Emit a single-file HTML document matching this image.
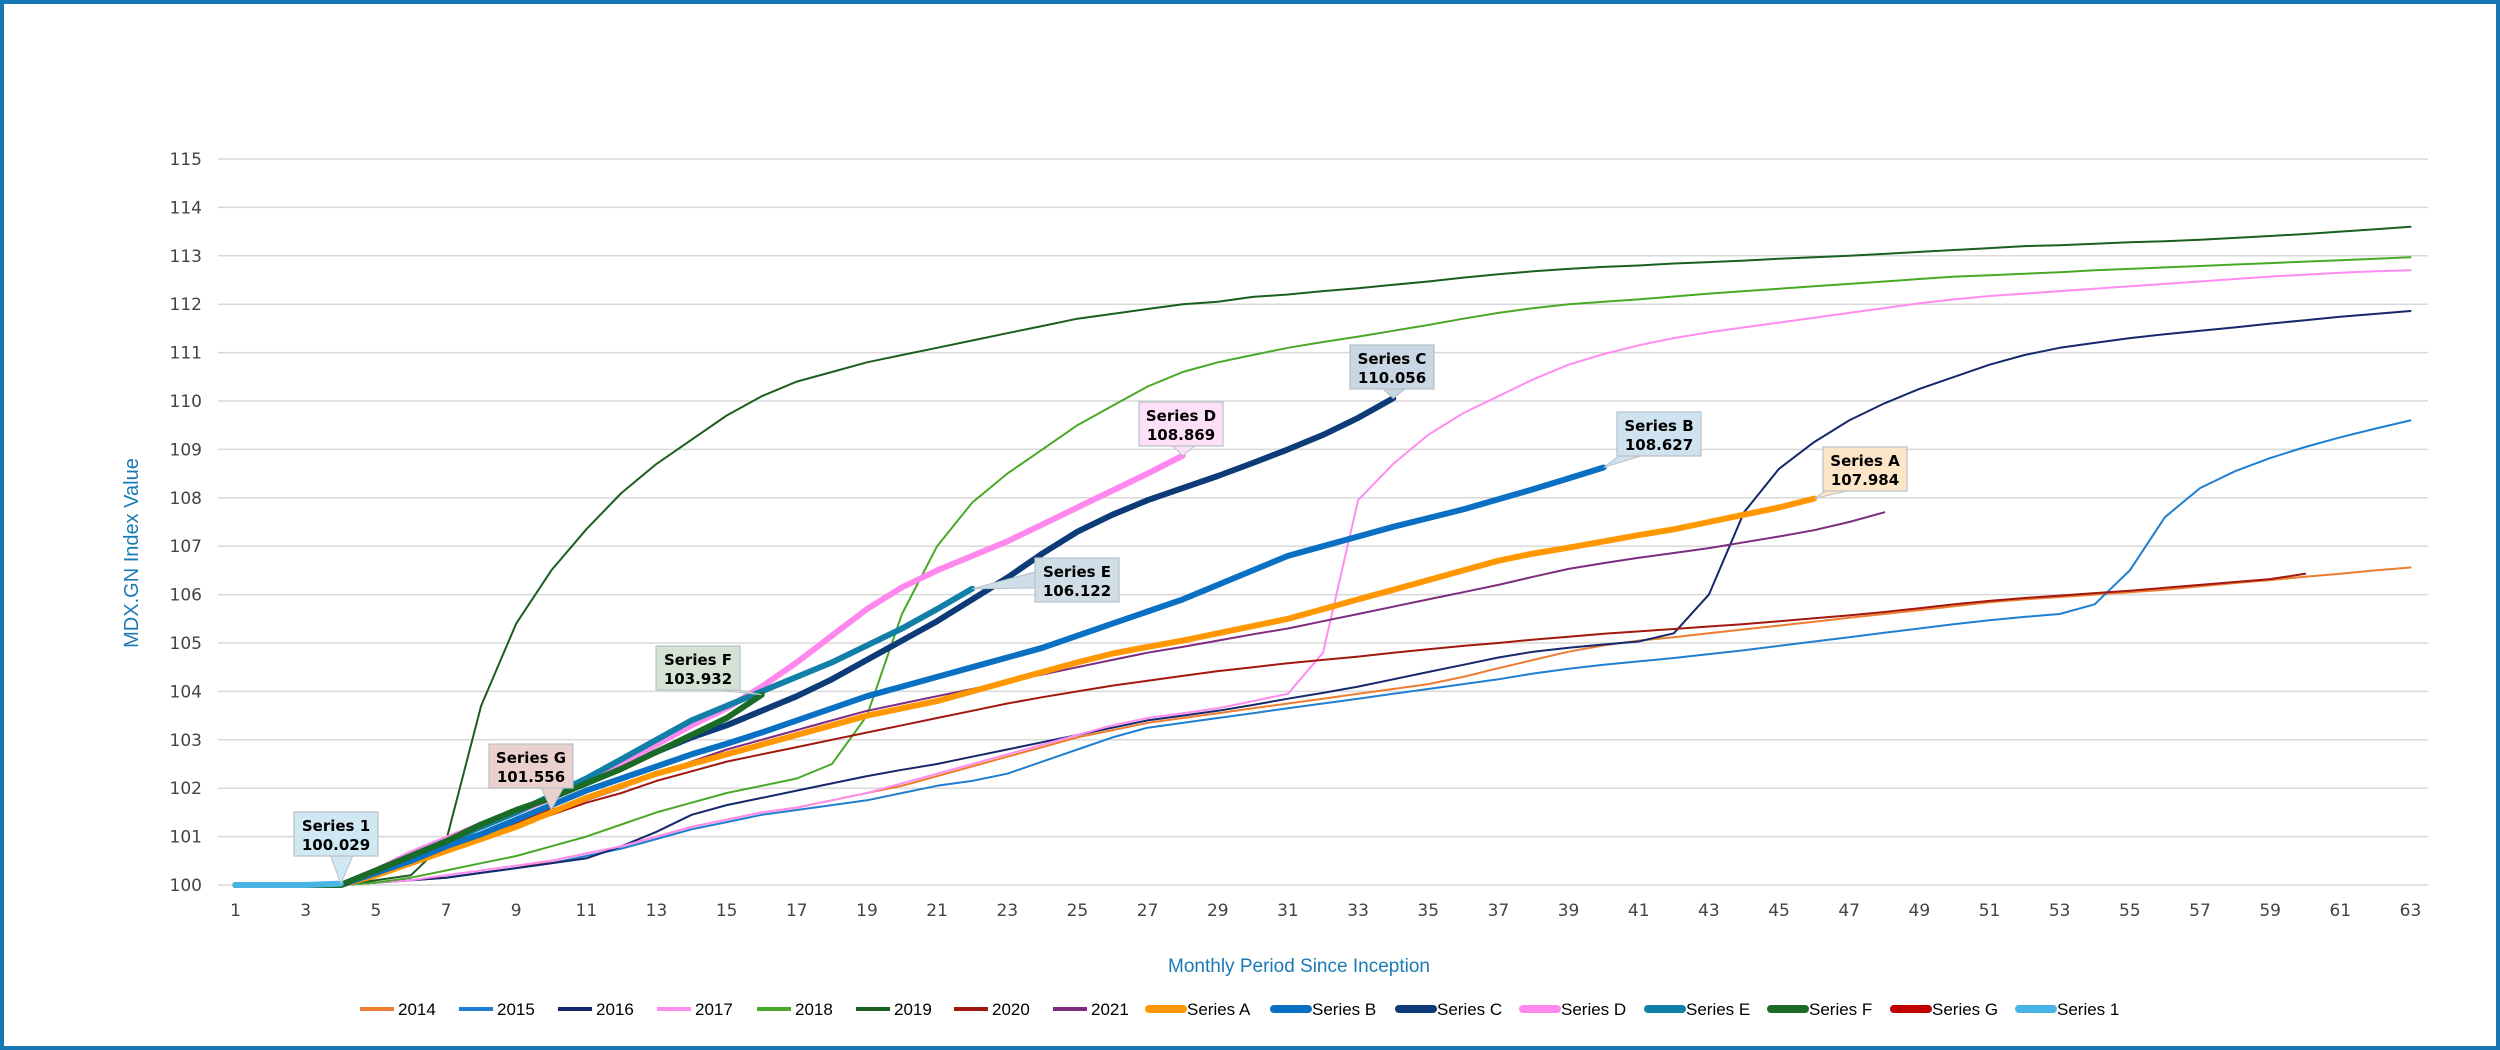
<!DOCTYPE html>
<html><head><meta charset="utf-8"><title>MDX.GN Index</title>
<style>
html,body{margin:0;padding:0;background:#fff;}
#wrap{position:relative;width:2500px;height:1050px;box-sizing:border-box;border:4px solid #1778b4;background:#fff;overflow:hidden;}
svg{position:absolute;left:-4px;top:-4px;}
</style></head>
<body>
<div id="wrap">
<svg id="chart" width="2500" height="1050" xmlns="http://www.w3.org/2000/svg"></svg>
</div>
<script>
const yTicks = [100,101,102,103,104,105,106,107,108,109,110,111,112,113,114,115];
const periods = Array.from({length:63},(_,i)=>i+1);
const s2014 = [100,100,100,100,100.05,100.1,100.15,100.25,100.35,100.5,100.65,100.8,101.0,101.2,101.35,101.5,101.6,101.75,101.9,102.05,102.25,102.45,102.65,102.85,103.05,103.2,103.35,103.45,103.55,103.65,103.75,103.85,103.95,104.05,104.15,104.3,104.48,104.65,104.82,104.95,105.05,105.12,105.2,105.28,105.36,105.44,105.52,105.6,105.68,105.76,105.84,105.9,105.95,106.0,106.05,106.1,106.17,106.24,106.3,106.37,106.43,106.5,106.56];
const s2015 = [100,100,100,100,100.05,100.1,100.15,100.25,100.35,100.45,100.6,100.75,100.95,101.15,101.3,101.45,101.55,101.65,101.75,101.9,102.05,102.15,102.3,102.55,102.8,103.05,103.25,103.35,103.45,103.55,103.65,103.75,103.85,103.95,104.05,104.15,104.25,104.37,104.47,104.55,104.62,104.69,104.77,104.85,104.94,105.03,105.12,105.21,105.3,105.39,105.47,105.54,105.6,105.8,106.5,107.6,108.2,108.55,108.82,109.05,109.25,109.43,109.6];
const s2016 = [100,100,100,100,100.05,100.1,100.15,100.25,100.35,100.45,100.55,100.8,101.1,101.45,101.65,101.8,101.95,102.1,102.25,102.38,102.5,102.65,102.8,102.95,103.1,103.25,103.4,103.5,103.6,103.72,103.85,103.97,104.1,104.25,104.4,104.55,104.7,104.82,104.9,104.97,105.03,105.2,106.0,107.7,108.6,109.15,109.6,109.95,110.25,110.5,110.75,110.95,111.1,111.2,111.3,111.38,111.45,111.52,111.6,111.67,111.74,111.8,111.86];
const s2017 = [100,100,100,100,100.05,100.1,100.2,100.3,100.4,100.5,100.65,100.8,101.0,101.2,101.35,101.5,101.6,101.75,101.9,102.1,102.3,102.5,102.7,102.9,103.1,103.3,103.45,103.55,103.65,103.8,103.95,104.8,107.95,108.7,109.3,109.75,110.1,110.45,110.75,110.97,111.15,111.3,111.42,111.52,111.62,111.72,111.82,111.92,112.02,112.1,112.17,112.22,112.27,112.32,112.37,112.42,112.47,112.52,112.57,112.61,112.65,112.68,112.7];
const s2018 = [100,100,100,100,100.05,100.15,100.3,100.45,100.6,100.8,101.0,101.25,101.5,101.7,101.9,102.05,102.2,102.5,103.5,105.6,107.0,107.9,108.5,109.0,109.5,109.9,110.3,110.6,110.8,110.95,111.1,111.22,111.33,111.45,111.57,111.7,111.82,111.92,112.0,112.05,112.1,112.16,112.22,112.27,112.32,112.37,112.42,112.47,112.52,112.57,112.6,112.63,112.66,112.7,112.73,112.76,112.79,112.82,112.85,112.88,112.91,112.94,112.97];
const s2019 = [100,100,100,100,100.1,100.2,100.9,103.7,105.4,106.5,107.35,108.1,108.7,109.2,109.7,110.1,110.4,110.6,110.8,110.95,111.1,111.25,111.4,111.55,111.7,111.8,111.9,112.0,112.05,112.15,112.2,112.27,112.33,112.4,112.47,112.55,112.62,112.68,112.73,112.77,112.8,112.84,112.87,112.9,112.94,112.97,113.0,113.04,113.08,113.12,113.16,113.2,113.22,113.25,113.28,113.3,113.33,113.37,113.41,113.45,113.5,113.55,113.6];
const s2020 = [100,100,100,100,100.25,100.5,100.75,101.0,101.2,101.45,101.7,101.9,102.15,102.35,102.55,102.7,102.85,103.0,103.15,103.3,103.45,103.6,103.75,103.88,104.0,104.12,104.22,104.32,104.42,104.5,104.58,104.65,104.72,104.8,104.87,104.94,105.0,105.07,105.13,105.19,105.24,105.29,105.34,105.39,105.45,105.51,105.57,105.64,105.72,105.8,105.87,105.93,105.98,106.03,106.08,106.14,106.2,106.26,106.32,106.43];
const s2021 = [100,100,100,100,100.25,100.5,100.75,101.0,101.25,101.5,101.75,102.0,102.3,102.55,102.8,103.0,103.2,103.4,103.6,103.75,103.9,104.05,104.2,104.35,104.5,104.65,104.8,104.92,105.05,105.18,105.3,105.45,105.6,105.75,105.9,106.05,106.2,106.37,106.53,106.65,106.76,106.86,106.96,107.08,107.2,107.33,107.5,107.7];
const sA = [100,100,100,100,100.2,100.45,100.7,100.95,101.2,101.5,101.8,102.05,102.3,102.5,102.7,102.9,103.1,103.3,103.5,103.65,103.8,104.0,104.2,104.4,104.6,104.78,104.92,105.05,105.2,105.35,105.5,105.7,105.9,106.1,106.3,106.5,106.7,106.85,106.97,107.1,107.23,107.35,107.5,107.65,107.8,107.984];
const sB = [100,100,100,100,100.25,100.5,100.8,101.05,101.35,101.65,101.95,102.2,102.45,102.7,102.92,103.15,103.4,103.65,103.9,104.1,104.3,104.5,104.7,104.9,105.15,105.4,105.65,105.9,106.2,106.5,106.8,107.0,107.2,107.4,107.58,107.76,107.97,108.18,108.4,108.627];
const sC = [100,100,100,100,100.3,100.6,100.9,101.2,101.5,101.8,102.1,102.45,102.75,103.05,103.3,103.6,103.9,104.25,104.65,105.05,105.45,105.9,106.35,106.85,107.3,107.65,107.95,108.2,108.45,108.72,109.0,109.3,109.65,110.056];
const sD = [100,100,100,100,100.3,100.65,100.95,101.25,101.5,101.8,102.1,102.5,102.9,103.3,103.65,104.1,104.6,105.15,105.7,106.15,106.5,106.8,107.1,107.45,107.8,108.15,108.5,108.869];
const sE = [100,100,100,100,100.3,100.6,100.9,101.2,101.5,101.85,102.2,102.6,103.0,103.4,103.7,104.0,104.3,104.6,104.95,105.3,105.7,106.122];
const sF = [100,100,100,100,100.3,100.6,100.9,101.25,101.55,101.8,102.1,102.4,102.75,103.1,103.45,103.932];
const sG = [100,100,100,100,100.25,100.5,100.75,101.0,101.25,101.556];
const s1 = [100,100,100,100.029];

const NS='http://www.w3.org/2000/svg';
const svg=document.getElementById('chart');
const L=218,R=2428,T=159,B=885;
const catW=(R-L)/periods.length;
function xs(p){return L+(p-0.5)*catW;}
function ys(v){return B-(v-100)/15*(B-T);}
function mk(tag,attrs){const e=document.createElementNS(NS,tag);for(const k in attrs)e.setAttribute(k,attrs[k]);svg.appendChild(e);return e;}

yTicks.forEach(v=>{
  const g=mk('line',{x1:L,x2:R,y1:ys(v),y2:ys(v),stroke:'#d9d9d9','stroke-width':1.5});
  
  
  const t=mk('text',{x:202,y:ys(v)+6,'text-anchor':'end','font-family':'DejaVu Sans, sans-serif','font-size':17,fill:'#444'});
  t.textContent=v;
  
  
});
periods.forEach(p=>{
  if(p%2===1){
    const t=mk('text',{x:xs(p),y:916,'text-anchor':'middle','font-family':'DejaVu Sans, sans-serif','font-size':17,fill:'#444'});
    t.textContent=p;
    
    
  }
});
const yt=mk('text',{x:0,y:0,transform:'translate(138,553) rotate(-90)','text-anchor':'middle','font-family':'Liberation Sans, sans-serif','font-size':20,fill:'#1a7ab5'});
yt.textContent='MDX.GN Index Value';


const xt=mk('text',{x:1299,y:972,'text-anchor':'middle','font-family':'Liberation Sans, sans-serif','font-size':19,fill:'#1a7ab5'});
xt.textContent='Monthly Period Since Inception';



const series=[
 ['2014',s2014,'#ed7d31',2],['2015',s2015,'#1f7fd0',2],['2016',s2016,'#14286b',2],['2017',s2017,'#ff8cf0',2],
 ['2018',s2018,'#4aa828',2],['2019',s2019,'#1a5e20',2],['2020',s2020,'#a0180e',2],['2021',s2021,'#7e2b80',2],
 ['Series A',sA,'#ff9800',6],['Series B',sB,'#0a70c4',6],['Series C',sC,'#0d3b78',6],['Series D',sD,'#ff88ee',6],
 ['Series E',sE,'#127fa8',6],['Series F',sF,'#1a6b25',6],['Series G',sG,'#c00000',6],['Series 1',s1,'#4ab3e6',6]
];
// draw order: Series G underneath the other thick series
const drawOrder=[14,0,1,2,3,4,5,6,7,8,9,10,11,12,13,15];
drawOrder.forEach(idx=>{
  const [name,vals,col,w]=series[idx];
  const d=vals.map((v,i)=>(i?'L':'M')+xs(i+1).toFixed(1)+' '+ys(v).toFixed(1)).join(' ');
  const p=mk('path',{d:d,fill:'none',stroke:col,'stroke-width':w,'stroke-linejoin':'round','stroke-linecap':'round'});
  
  
});

const callouts=[
 ['Series 1',s1,294,812,'#cfe8f3'],['Series G',sG,489,744,'#ead1cd'],['Series F',sF,656,646,'#d5e3d5'],
 ['Series E',sE,1035,558,'#cfdde6'],['Series D',sD,1139,402,'#fde0f8'],['Series C',sC,1350,345,'#c9d6e3'],
 ['Series B',sB,1617,412,'#cfe2f0'],['Series A',sA,1823,447,'#fde6c8']
];
callouts.forEach(([name,vals,bx,by,fill])=>{
  const n=vals.length, v=vals[n-1], px=xs(n), py=ys(v);
  const bw=84,bh=44;
  const cx=Math.min(Math.max(px,bx+12),bx+bw-12);
  let pts;
  if(py>by+bh){pts=`${cx-10},${by+bh} ${px},${py} ${cx+12},${by+bh}`;}
  else {const ex = px<bx?bx:bx+bw; pts=`${ex},${by+bh/2-8} ${px},${py} ${ex},${by+bh/2+8}`;}
  const tri=mk('polygon',{points:pts,fill:fill,stroke:'#b8c0c8','stroke-width':1});
  
  
  const r=mk('rect',{x:bx,y:by,width:bw,height:bh,fill:fill,stroke:'#b8c0c8','stroke-width':1.2});
  
  
  const t1=mk('text',{x:bx+bw/2,y:by+19,'text-anchor':'middle','font-family':'DejaVu Sans, sans-serif','font-size':15,'font-weight':'bold',fill:'#000'});
  t1.textContent=name;
  
  
  const t2=mk('text',{x:bx+bw/2,y:by+38,'text-anchor':'middle','font-family':'DejaVu Sans, sans-serif','font-size':15,'font-weight':'bold',fill:'#000'});
  t2.textContent=v.toFixed(3);
  
  
});

const legX=[360,459,558,657,757,856,954,1053,1149,1274,1399,1523,1648,1771,1894,2019];
series.forEach(([name,vals,col,w],i)=>{
  const x=legX[i], y=1009;
  const l=mk('line',{x1:x,x2:x+34,y1:y,y2:y,stroke:col,'stroke-width':w>3?8:4,'stroke-linecap':w>3?'round':'butt'});
  
  
  const t=mk('text',{x:x+38,y:y+6,'font-family':'Liberation Sans, sans-serif','font-size':17,fill:'#000'});
  t.textContent=name;
  
  
});
</script>
</body></html>
